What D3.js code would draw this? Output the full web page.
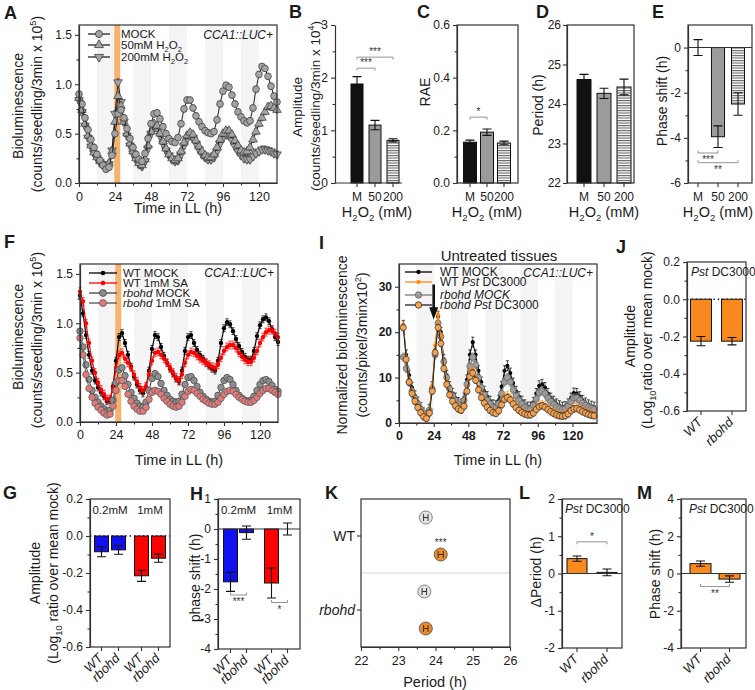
<!DOCTYPE html>
<html>
<head>
<meta charset="utf-8">
<script src="https://cdn.jsdelivr.net/npm/d3@7"></script>
<style>
  body { margin: 0; background: #fff; }
  svg text { font-family: "Liberation Sans", Arial, Helvetica, sans-serif; }
</style>
</head>
<body>
<script>
// ---------- time courses (2 h sampling) ----------
const hoursAF = d3.range(0, 133, 2);
const hoursI = d3.range(3, 136, 2);

// A : H2O2 pulse
const aMock = [0.90,0.80,0.66,0.54,0.44,0.36,0.29,0.23,0.18,0.14,
  0.16,0.28,0.50,0.70,0.74,0.66,0.55,0.45,0.36,0.29,
  0.24,0.22,0.30,0.45,0.60,0.70,0.71,0.65,0.57,0.50,
  0.45,0.42,0.41,0.46,0.60,0.75,0.84,0.84,0.76,0.68,
  0.62,0.57,0.53,0.51,0.50,0.52,0.64,0.80,0.93,0.99,
  0.97,0.89,0.80,0.72,0.67,0.63,0.61,0.63,0.76,0.95,
  1.10,1.18,1.16,1.08,0.98,0.88,0.82];
const a50 = [0.86,0.74,0.60,0.48,0.38,0.31,0.26,0.22,0.19,0.17,
  0.20,0.32,0.62,0.88,0.78,0.62,0.50,0.40,0.32,0.25,
  0.20,0.18,0.24,0.38,0.52,0.60,0.58,0.50,0.42,0.35,
  0.29,0.25,0.23,0.25,0.32,0.41,0.48,0.51,0.49,0.43,
  0.37,0.32,0.28,0.26,0.26,0.29,0.36,0.44,0.50,0.53,
  0.53,0.49,0.43,0.38,0.33,0.31,0.32,0.36,0.44,0.52,
  0.60,0.66,0.72,0.77,0.78,0.76,0.74];
const a200 = [0.84,0.72,0.58,0.46,0.37,0.30,0.25,0.21,0.18,0.16,
  0.19,0.33,0.70,1.02,0.82,0.62,0.48,0.38,0.30,0.24,
  0.19,0.17,0.22,0.35,0.50,0.58,0.56,0.48,0.40,0.33,
  0.28,0.24,0.22,0.23,0.29,0.38,0.45,0.48,0.46,0.40,
  0.34,0.29,0.26,0.24,0.24,0.26,0.32,0.40,0.46,0.49,
  0.48,0.43,0.37,0.32,0.28,0.25,0.24,0.24,0.27,0.30,
  0.32,0.34,0.34,0.33,0.32,0.30,0.29];

// F : SA pulse
const fWtMock = [1.28,1.10,0.88,0.68,0.52,0.42,0.35,0.30,0.26,0.21,
  0.22,0.36,0.62,0.86,0.90,0.80,0.68,0.56,0.46,0.38,
  0.32,0.29,0.35,0.52,0.74,0.88,0.86,0.76,0.67,0.60,
  0.54,0.49,0.44,0.41,0.52,0.72,0.86,0.88,0.80,0.73,
  0.68,0.64,0.60,0.57,0.54,0.52,0.62,0.80,0.95,1.01,
  0.99,0.92,0.84,0.77,0.71,0.66,0.63,0.63,0.72,0.87,
  0.98,1.04,1.06,1.02,0.94,0.86,0.81];
const fWtSA = [1.32,1.22,1.00,0.80,0.62,0.50,0.40,0.33,0.28,0.23,
  0.23,0.34,0.55,0.68,0.70,0.64,0.60,0.55,0.48,0.41,
  0.35,0.32,0.36,0.48,0.62,0.70,0.71,0.68,0.64,0.60,
  0.55,0.50,0.45,0.42,0.48,0.60,0.68,0.71,0.70,0.67,
  0.64,0.62,0.60,0.58,0.56,0.55,0.58,0.65,0.72,0.76,
  0.78,0.78,0.75,0.70,0.66,0.63,0.61,0.61,0.65,0.72,
  0.80,0.86,0.91,0.93,0.93,0.90,0.86];
const fRbMock = [0.92,0.76,0.58,0.43,0.32,0.25,0.20,0.16,0.13,0.11,
  0.12,0.22,0.40,0.53,0.55,0.47,0.38,0.30,0.24,0.19,
  0.16,0.15,0.20,0.32,0.44,0.49,0.46,0.39,0.32,0.27,
  0.23,0.21,0.20,0.21,0.28,0.38,0.45,0.46,0.42,0.36,
  0.30,0.26,0.23,0.21,0.20,0.21,0.27,0.35,0.42,0.45,
  0.43,0.38,0.32,0.27,0.24,0.22,0.21,0.22,0.26,0.32,
  0.38,0.42,0.43,0.41,0.37,0.33,0.31];
const fRbSA = [0.85,0.68,0.48,0.34,0.25,0.19,0.15,0.12,0.09,0.07,
  0.08,0.16,0.32,0.42,0.42,0.36,0.28,0.21,0.16,0.13,
  0.11,0.11,0.15,0.23,0.30,0.32,0.31,0.28,0.24,0.21,
  0.18,0.16,0.15,0.16,0.20,0.26,0.31,0.33,0.32,0.29,
  0.26,0.23,0.21,0.19,0.18,0.18,0.20,0.24,0.28,0.31,
  0.32,0.31,0.28,0.25,0.23,0.21,0.20,0.20,0.22,0.25,
  0.29,0.32,0.34,0.34,0.32,0.30,0.28];

// I : untreated tissues, Pst DC3000
const iWtMock = [21.5,15.0,10.5,7.8,6.0,4.6,3.4,2.2,1.6,3.0,
  8.0,16.0,23.5,20.0,14.0,10.5,8.0,6.5,5.5,4.5,
  4.2,5.5,9.5,15.0,17.8,15.0,11.5,9.0,7.0,5.8,
  4.8,4.0,3.8,5.0,8.0,11.5,12.6,11.0,8.8,7.0,
  5.8,4.8,4.0,3.5,3.5,4.5,6.5,8.2,8.5,7.8,
  6.5,5.5,4.8,4.2,3.8,3.5,3.6,4.2,5.5,6.6,
  6.5,5.8,5.0,4.4,4.0,3.7,3.5];
const iWtPst = [21.5,14.5,9.5,6.8,5.0,3.6,2.5,1.5,1.1,2.5,
  8.0,17.0,23.8,19.0,12.5,9.0,6.5,5.0,4.0,3.3,
  3.0,4.0,7.5,11.0,11.8,10.0,7.8,6.0,4.8,3.8,
  3.0,2.5,2.4,3.0,4.5,5.8,6.2,5.6,4.6,3.8,
  3.1,2.6,2.2,2.0,2.0,2.5,3.3,4.0,4.2,3.9,
  3.3,2.8,2.4,2.1,1.9,1.8,1.9,2.3,3.0,3.5,
  3.5,3.2,2.8,2.5,2.3,2.1,2.0];
const iRbMock = [14.5,12.0,9.0,7.0,5.5,4.2,3.0,2.0,1.5,2.8,
  7.5,15.0,22.0,19.0,13.5,10.0,7.5,6.0,5.0,4.2,
  3.8,5.0,8.5,12.5,14.5,12.8,10.0,7.8,6.2,5.0,
  4.2,3.5,3.3,4.2,6.5,9.0,10.0,9.0,7.3,6.0,
  5.0,4.2,3.5,3.1,3.1,3.9,5.3,6.7,7.0,6.5,
  5.5,4.7,4.1,3.6,3.2,3.0,3.1,3.7,4.7,5.5,
  5.5,5.0,4.4,3.9,3.5,3.2,3.0];
const iRbPst = [21.0,14.0,9.0,6.5,4.8,3.4,2.3,1.4,1.0,2.2,
  7.0,15.5,21.0,17.5,12.0,8.5,6.2,4.8,3.8,3.1,
  2.8,3.7,7.0,10.2,11.0,9.4,7.3,5.6,4.4,3.5,
  2.8,2.3,2.1,2.7,4.0,5.2,5.6,5.1,4.2,3.4,
  2.8,2.3,2.0,1.8,1.8,2.2,3.0,3.6,3.8,3.5,
  3.0,2.5,2.1,1.8,1.6,1.5,1.6,2.0,2.7,3.1,
  3.2,2.9,2.5,2.2,1.9,1.7,1.6];

const nights = [[12, 24], [36, 48], [60, 72], [84, 96], [108, 120]];
const pulse = [23.5, 27.5];
const timeTicks = [0, 24, 48, 72, 96, 120];
const timeMinor = [12, 36, 60, 84, 108];
const bioTicks = [0, 0.5, 1.0, 1.5];
const bioMinor = [0.25, 0.75, 1.25];

// ---------- bar panels ----------
const doseCats = ["M", "50", "200"];
const ampB = [1.88, 1.10, 0.81], ampBErr = [0.14, 0.09, 0.03];
const raeC = [0.155, 0.193, 0.152], raeCErr = [0.008, 0.012, 0.007];
const perD = [24.62, 24.27, 24.43], perDErr = [0.13, 0.13, 0.20];
const phE = [0, -3.95, -2.5], phEErr = [0.35, 0.48, 0.5];

const saGroups = ["0.2mM", "1mM"];
const genotypes = ["WT", "rbohd"];
const saGroupOf = ["0.2mM", "0.2mM", "1mM", "1mM"];
const saGenoOf = ["WT", "rbohd", "WT", "rbohd"];
const ampG = [-0.085, -0.075, -0.215, -0.12], ampGErr = [0.027, 0.024, 0.03, 0.022];
const phH = [-1.76, -0.12, -1.80, 0.0], phHErr = [0.32, 0.22, 0.5, 0.2];

const ampJ = [-0.225, -0.225], ampJErr = [0.025, 0.02];
const dPerL = [0.40, 0.03], dPerLErr = [0.07, 0.09];
const phM = [0.53, -0.30], phMErr = [0.14, 0.17];

const kRows = ["WT MOCK", "WT Pst", "rbohd MOCK", "rbohd Pst"];
const kPeriod = [23.74, 24.14, 23.70, 23.74], kErr = [0.06, 0.07, 0.06, 0.06];

// significance: [index a, index b, level, stars]
const sigB = [[0, 2, 2.39, "***"], [0, 1, 2.18, "***"]];
const sigC = [[0, 1, 0.25, "*"]];
const sigE = [[0, 1, -4.67, "***"], [0, 2, -5.1, "**"]];
const sigH = [[0, 1, -2.2, "***"], [2, 3, -2.45, "*"]];
const sigL = [[0, 1, 0.85, "*"]];
const sigM = [[0, 1, -0.7, "**"]];

// ---------- drawing ----------
const svg = d3.select("body").append("svg").attr("width", 755).attr("height", 690);
const defs = svg.append("defs");
const stripe = defs.append("pattern").attr("id", "stripes")
  .attr("patternUnits", "userSpaceOnUse").attr("width", 6).attr("height", 2.5);
stripe.append("rect").attr("width", 6).attr("height", 2.5).attr("fill", "#fff");
stripe.append("rect").attr("width", 6).attr("height", 1.1).attr("fill", "#666");

const ORANGE = "#f7891f";
const doseFills = ["#111", "#9b9b9b", "url(#stripes)"];

function rich(text, parts, size) {
  let shift = 0;
  parts.forEach(p => {
    if (typeof p === "string") p = { t: p };
    const target = p.sub ? size * 0.25 : p.sup ? -size * 0.42 : 0;
    const ts = text.append("tspan").text(p.t);
    if (target - shift !== 0) ts.attr("dy", target - shift);
    shift = target;
    if (p.sub || p.sup) ts.attr("font-size", size * 0.66);
    if (p.i) ts.attr("font-style", "italic");
  });
}

function label(x, y, parts, o = {}) {
  const size = o.size || 14;
  const t = svg.append("text").attr("x", x).attr("y", y)
    .attr("font-size", size).attr("text-anchor", o.anchor || "middle").attr("fill", o.fill || "#1a1a1a");
  if (o.rotate) t.attr("transform", `rotate(${o.rotate},${x},${y})`);
  if (o.bold) t.attr("font-weight", "bold");
  if (o.italic) t.attr("font-style", "italic");
  rich(t, Array.isArray(parts) ? parts : [parts], size);
  return t;
}
function ylab(xc, yc, parts, size = 14) {
  return label(xc + size * 0.36, yc, parts, { rotate: -90, size });
}

function styleAxis(a, size, bold) {
  a.attr("font-size", null).attr("font-family", null);
  a.select(".domain").attr("stroke", "#333").attr("stroke-width", 1.2);
  a.selectAll(".tick line").attr("stroke", "#333").attr("stroke-width", 1.1);
  a.selectAll(".tick text").attr("font-size", size || 12).attr("fill", "#1a1a1a")
    .attr("font-weight", bold ? "bold" : null);
}
function leftAxis(g, y, xpos, ticks, fmt, minor, bold, pad = 3) {
  const a = g.append("g").attr("transform", `translate(${xpos},0)`)
    .call(d3.axisLeft(y).tickValues(ticks).tickFormat(fmt).tickSize(4).tickSizeOuter(0).tickPadding(pad));
  styleAxis(a, 12, bold);
  if (minor) {
    const m = g.append("g").attr("transform", `translate(${xpos},0)`)
      .call(d3.axisLeft(y).tickValues(minor).tickFormat("").tickSize(2.5));
    m.select(".domain").remove();
    styleAxis(m);
  }
}
function bottomAxis(g, x, ypos, ticks, fmt, minor, pad, bold) {
  const a = g.append("g").attr("transform", `translate(0,${ypos})`)
    .call(d3.axisBottom(x).tickValues(ticks).tickFormat(fmt).tickSize(4).tickSizeOuter(0).tickPadding(pad));
  styleAxis(a, 12.5, bold);
  if (minor) {
    const m = g.append("g").attr("transform", `translate(0,${ypos})`)
      .call(d3.axisBottom(x).tickValues(minor).tickFormat("").tickSize(2.5));
    m.select(".domain").remove();
    styleAxis(m);
  }
}
function frame(g, l, t, r, b) {
  g.append("rect").attr("x", l).attr("y", t).attr("width", r - l).attr("height", b - t)
    .attr("fill", "none").attr("stroke", "#333").attr("stroke-width", 1.2);
}

function timePanel(o) {
  const g = svg.append("g");
  const x = d3.scaleLinear().domain([0, o.xMax]).range([o.l, o.r]);
  const y = d3.scaleLinear().domain([0, o.yMax]).range([o.b, o.t]);
  g.selectAll("rect.night").data(nights).join("rect").attr("class", "night")
    .attr("x", d => x(d[0])).attr("width", d => x(d[1]) - x(d[0]))
    .attr("y", o.t).attr("height", o.b - o.t).attr("fill", "#f4f4f4");
  if (o.pulse) g.append("rect").attr("x", x(o.pulse[0])).attr("width", x(o.pulse[1]) - x(o.pulse[0]))
    .attr("y", o.t).attr("height", o.b - o.t).attr("fill", "#f6b26e");
  o.series.forEach(s => {
    const pts = s.values.map((v, i) => ({ h: s.hours[i], v }));
    g.append("path").datum(pts).attr("fill", "none").attr("stroke", s.line).attr("stroke-width", s.lw || 1)
      .attr("d", d3.line().x(d => x(d.h)).y(d => y(d.v)));
    g.append("path").attr("fill", "none").attr("stroke", s.err || s.line).attr("stroke-width", 0.7)
      .attr("d", pts.map(d => {
        const cx = x(d.h), y1 = y(d.v + s.sem), y2 = y(Math.max(0, d.v - s.sem));
        return `M${cx - 1.6},${y1}H${cx + 1.6}M${cx},${y1}V${y2}M${cx - 1.6},${y2}H${cx + 1.6}`;
      }).join(""));
    g.append("g").selectAll("path").data(pts).join("path")
      .attr("transform", d => `translate(${x(d.h)},${y(d.v)})` + (s.down ? " rotate(180)" : ""))
      .attr("d", d3.symbol(s.shape, s.size))
      .attr("fill", s.fill).attr("stroke", s.stroke || "none").attr("stroke-width", 0.7);
  });
  leftAxis(g, y, o.l, o.yTicks, o.yFmt, o.yMinor, o.bold);
  bottomAxis(g, x, o.b, timeTicks, d3.format("d"), timeMinor, o.xPad, o.bold);
  frame(g, o.l, o.t, o.r, o.b);
  return { g, x, y };
}

function legend(rows, xl, xr, xt, size) {
  rows.forEach(r => {
    svg.append("line").attr("x1", xl).attr("x2", xr).attr("y1", r.y).attr("y2", r.y)
      .attr("stroke", r.s.line).attr("stroke-width", 1.3);
    svg.append("path").attr("transform", `translate(${(xl + xr) / 2},${r.y})` + (r.s.down ? " rotate(180)" : ""))
      .attr("d", d3.symbol(r.s.shape, r.s.size * 1.1))
      .attr("fill", r.s.fill).attr("stroke", r.s.stroke || "none").attr("stroke-width", 0.8);
    label(xt, r.y + size * 0.36, r.text, { anchor: "start", size });
  });
}

function barPanel(o) {
  const g = svg.append("g");
  const groups = o.groups || [""];
  const gx = d3.scaleBand().domain(groups).range(o.xr);
  const sx = d3.scalePoint().domain(o.subs).range([-o.half, o.half]);
  const y = d3.scaleLinear().domain(o.dom).range([o.b, o.t]);
  const base = o.base === undefined ? 0 : o.base;
  const data = o.vals.map((v, i) => ({
    grp: o.grpOf ? o.grpOf[i] : groups[0], sub: o.subOf ? o.subOf[i] : o.subs[i],
    v, e: o.errs[i], fill: o.fills[i]
  }));
  const cx = d => gx(d.grp) + gx.bandwidth() / 2 + sx(d.sub);
  if (o.zero === "dotted") g.append("line").attr("x1", o.l).attr("x2", o.r).attr("y1", y(0)).attr("y2", y(0))
    .attr("stroke", "#111").attr("stroke-width", 1.4).attr("stroke-dasharray", "1.4,3");
  g.selectAll("rect.bar").data(data).join("rect").attr("class", "bar")
    .attr("x", d => cx(d) - o.bw / 2).attr("width", o.bw)
    .attr("y", d => Math.min(y(d.v), y(base)))
    .attr("height", d => Math.abs(y(d.v) - y(base)))
    .attr("fill", d => d.fill).attr("stroke", "#111").attr("stroke-width", 1);
  if (o.zero === "solid") g.append("line").attr("x1", o.l).attr("x2", o.r).attr("y1", y(0)).attr("y2", y(0))
    .attr("stroke", "#333").attr("stroke-width", 1.1);
  const cap = o.cap || 4.5;
  g.append("path").attr("fill", "none").attr("stroke", "#111").attr("stroke-width", 1.1)
    .attr("d", data.map(d => {
      const c = cx(d), y1 = y(d.v + d.e), y2 = y(d.v - d.e);
      return `M${c - cap},${y1}H${c + cap}M${c},${y1}V${y2}M${c - cap},${y2}H${c + cap}`;
    }).join(""));
  leftAxis(g, y, o.l, o.ticks, o.fmt, o.minor, false, o.pad);
  if (o.box) frame(g, o.l, o.t, o.r, o.b);
  else g.append("line").attr("x1", o.l).attr("x2", o.r).attr("y1", o.b).attr("y2", o.b)
    .attr("stroke", "#333").attr("stroke-width", 1.2);
  g.append("path").attr("stroke", "#333").attr("stroke-width", 1.1)
    .attr("d", data.map(d => `M${cx(d)},${o.b}V${o.b + 4}`).join(""));
  data.forEach(d => {
    if (o.rot) {
      svg.append("text").attr("transform", `translate(${cx(d) + 2},${o.b + 12}) rotate(-45)`)
        .attr("text-anchor", "end").attr("font-size", 13).attr("font-style", "italic")
        .attr("fill", "#1a1a1a").text(d.sub);
    } else {
      label(cx(d), o.b + 18, d.sub, { size: 12 });
    }
  });
  if (o.groupLabels) groups.forEach(gr => label(gx(gr) + gx.bandwidth() / 2, o.t + 15, gr, { size: 11.5 }));
  (o.sigs || []).forEach(s => {
    const x1 = cx(data[s[0]]), x2 = cx(data[s[1]]), yy = y(s[2]);
    const below = o.sigBelow;
    const tk = below ? -2.5 : 2.5;
    g.append("path").attr("fill", "none").attr("stroke", "#888").attr("stroke-width", 0.9)
      .attr("d", `M${x1},${yy + tk}V${yy}H${x2}V${yy + tk}`);
    label((x1 + x2) / 2, below ? yy + 10 : yy - 2, s[3], { size: 10, fill: "#333" });
  });
  return { g, gx, y, data, cx };
}

// ---- A ----
const styA = {
  mock: { shape: d3.symbolCircle, size: 36, fill: "#a3a3a3", stroke: "#3a3a3a", line: "#222" },
  h50: { shape: d3.symbolTriangle, size: 32, fill: "#a3a3a3", stroke: "#3a3a3a", line: "#222" },
  h200: { shape: d3.symbolTriangle, size: 32, fill: "#a3a3a3", stroke: "#3a3a3a", line: "#222", down: true }
};
timePanel({
  l: 79, r: 277, t: 25, b: 183, xMax: 132, yMax: 1.6, yTicks: bioTicks, yMinor: bioMinor,
  yFmt: d => d.toFixed(1), xPad: 5, pulse,
  series: [
    { ...styA.h200, hours: hoursAF, values: a200, sem: 0.035 },
    { ...styA.h50, hours: hoursAF, values: a50, sem: 0.03 },
    { ...styA.mock, hours: hoursAF, values: aMock, sem: 0.03 }
  ]
});
legend([
  { y: 34, s: styA.mock, text: "MOCK" },
  { y: 45, s: styA.h50, text: ["50mM H", { t: "2", sub: true }, "O", { t: "2", sub: true }] },
  { y: 57, s: styA.h200, text: ["200mM H", { t: "2", sub: true }, "O", { t: "2", sub: true }] }
], 88, 110, 121, 11.5);
label(273, 39, "CCA1::LUC+", { anchor: "end", size: 12, italic: true });
ylab(18, 106, "Bioluminescence");
ylab(37, 104, ["(counts/seedling/3min x 10", { t: "5", sup: true }, ")"]);
label(178, 213, "Time in LL (h)", { size: 14.5 });

// ---- F ----
const styF = {
  wtM: { shape: d3.symbolCircle, size: 15, fill: "#000", line: "#000", lw: 1.2 },
  wtS: { shape: d3.symbolCircle, size: 15, fill: "#f00", line: "#f00", lw: 1.2 },
  rbM: { shape: d3.symbolCircle, size: 34, fill: "#8e8e8e", stroke: "#444", line: "#444" },
  rbS: { shape: d3.symbolCircle, size: 34, fill: "#e07b7b", stroke: "#555", line: "#555" }
};
timePanel({
  l: 80, r: 278, t: 264, b: 422, xMax: 132, yMax: 1.6, yTicks: bioTicks, yMinor: bioMinor,
  yFmt: d => d.toFixed(1), xPad: 4, pulse,
  series: [
    { ...styF.wtM, hours: hoursAF, values: fWtMock, sem: 0.035 },
    { ...styF.wtS, hours: hoursAF, values: fWtSA, sem: 0.04 },
    { ...styF.rbM, hours: hoursAF, values: fRbMock, sem: 0.02 },
    { ...styF.rbS, hours: hoursAF, values: fRbSA, sem: 0.02 }
  ]
});
legend([
  { y: 273, s: styF.wtM, text: "WT MOCK" },
  { y: 283, s: styF.wtS, text: "WT 1mM SA" },
  { y: 293, s: styF.rbM, text: [{ t: "rbohd", i: true }, " MOCK"] },
  { y: 303, s: styF.rbS, text: [{ t: "rbohd", i: true }, " 1mM SA"] }
], 89, 117, 123, 11.5);
label(274, 277, "CCA1::LUC+", { anchor: "end", size: 12, italic: true });
ylab(18, 337, "Bioluminescence");
ylab(37, 340, ["(counts/seedling/3min x 10", { t: "5", sup: true }, ")"]);
label(179, 465, "Time in LL (h)", { size: 14.5 });

// ---- I ----
const styI = {
  wtM: { shape: d3.symbolCircle, size: 13, fill: "#000", line: "#000" },
  wtP: { shape: d3.symbolSquare, size: 12, fill: "#ff8a14", line: "#ff8a14" },
  rbM: { shape: d3.symbolCircle, size: 30, fill: "#9c9c9c", stroke: "#666", line: "#7a7a7a" },
  rbP: { shape: d3.symbolCircle, size: 30, fill: "#f5a24f", stroke: "#333", line: "#222" }
};
const I = timePanel({
  l: 399, r: 597, t: 264, b: 423, xMax: 137, yMax: 35, yTicks: [0, 10, 20, 30], yMinor: [5, 15, 25],
  yFmt: d3.format("d"), xPad: 4, bold: true,
  series: [
    { ...styI.wtM, hours: hoursI, values: iWtMock, sem: 1.1 },
    { ...styI.rbM, hours: hoursI, values: iRbMock, sem: 0.9 },
    { ...styI.wtP, hours: hoursI, values: iWtPst, sem: 0.8 },
    { ...styI.rbP, hours: hoursI, values: iRbPst, sem: 0.7 }
  ]
});
legend([
  { y: 272, s: styI.wtM, text: "WT MOCK" },
  { y: 282, s: styI.wtP, text: ["WT ", { t: "Pst", i: true }, " DC3000"] },
  { y: 295, s: styI.rbM, text: [{ t: "rbohd MOCK", i: true }] },
  { y: 305, s: styI.rbP, text: [{ t: "rbohd Pst", i: true }, " DC3000"] }
], 405, 432, 440, 12);
// inoculation arrow
I.g.append("path").attr("stroke", "#111").attr("stroke-width", 2.6)
  .attr("d", `M${I.x(24)},${I.y(30.5)}V${I.y(24.5)}`);
I.g.append("path").attr("fill", "#111")
  .attr("d", `M${I.x(24) - 4.5},${I.y(25.5)}L${I.x(24) + 4.5},${I.y(25.5)}L${I.x(24)},${I.y(22.8)}Z`);
label(593, 277, "CCA1::LUC+", { anchor: "end", size: 12, italic: true });
label(499, 261, "Untreated tissues", { size: 15 });
ylab(342, 345, "Normalized bioluminescence");
ylab(362, 345, ["(counts/pixel/3minx10", { t: "2", sup: true }, ")"]);
label(498, 465, "Time in LL (h)", { size: 14.5 });

// ---- B–E ----
const h2o2 = ["H", { t: "2", sub: true }, "O", { t: "2", sub: true }, " (mM)"];
barPanel({ l: 335, r: 402, t: 25, b: 183, xr: [336, 414], half: 18, bw: 12, dom: [0, 3],
  ticks: [0, 1, 2, 3], minor: [0.5, 1.5, 2.5], fmt: d => d, subs: doseCats,
  vals: ampB, errs: ampBErr, fills: doseFills, sigs: sigB });
label(377, 217, h2o2, { size: 14.5 });
ylab(297, 107, "Amplitude", 13.5);
ylab(315, 106, ["(counts/seedling/3min x 10", { t: "4", sup: true }, ")"], 13.5);

barPanel({ l: 457, r: 518, t: 25, b: 183, box: true, xr: [457, 517], half: 17, bw: 13, dom: [0, 0.6],
  ticks: [0, 0.2, 0.4, 0.6], minor: [0.1, 0.3, 0.5], fmt: d => d.toFixed(1), subs: doseCats,
  vals: raeC, errs: raeCErr, fills: doseFills, sigs: sigC });
label(487, 217, h2o2, { size: 14.5 });
ylab(425, 92, "RAE");

barPanel({ l: 567, r: 634, t: 25, b: 183, box: true, xr: [574, 634], half: 20, bw: 14, dom: [22, 26], base: 22,
  ticks: [22, 23, 24, 25, 26], fmt: d => d, subs: doseCats, pad: 2,
  vals: perD, errs: perDErr, fills: doseFills });
label(604, 217, h2o2, { size: 14.5 });
ylab(538, 105, "Period (h)");

barPanel({ l: 688, r: 752, t: 25, b: 183, box: true, xr: [688, 748], half: 20, bw: 13, dom: [-6, 1],
  ticks: [-6, -4, -2, 0], minor: [-5, -3, -1], fmt: d => String(d), subs: doseCats, zero: "solid",
  vals: phE, errs: phEErr, fills: doseFills, sigs: sigE, sigBelow: true });
label(718, 217, h2o2, { size: 14.5 });
ylab(662, 101, "Phase shift (h)");

// ---- G, H ----
const saFills = ["#1111f0", "#1111f0", "#f00", "#f00"];
barPanel({ l: 90, r: 170, t: 499, b: 647, box: true, xr: [90, 170], half: 8.5, bw: 14, dom: [-0.6, 0.2],
  ticks: [-0.6, -0.4, -0.2, 0, 0.2], minor: [-0.5, -0.3, -0.1, 0.1], fmt: d => d.toFixed(1),
  groups: saGroups, subs: genotypes, grpOf: saGroupOf, subOf: saGenoOf, groupLabels: true,
  zero: "dotted", rot: true, vals: ampG, errs: ampGErr, fills: saFills });
ylab(35, 573, "Amplitude");
ylab(53, 573, ["(Log", { t: "10", sub: true }, " ratio over mean mock)"]);

barPanel({ l: 218, r: 300, t: 499, b: 649, box: true, xr: [218, 300], half: 8, bw: 14, dom: [-4, 1],
  ticks: [-4, -3, -2, -1, 0, 1], minor: [-3.5, -2.5, -1.5, -0.5, 0.5], fmt: d => String(d),
  groups: saGroups, subs: genotypes, grpOf: saGroupOf, subOf: saGenoOf, groupLabels: true,
  zero: "solid", rot: true, vals: phH, errs: phHErr, fills: saFills, sigs: sigH, sigBelow: true });
ylab(195, 578, "phase shift (h)");

// ---- J, L, M ----
const pstFills = [ORANGE, ORANGE];
const pstTag = [{ t: "Pst", i: true }, " DC3000"];
barPanel({ l: 687, r: 746, t: 262, b: 411, box: true, xr: [687, 746], half: 15.5, bw: 21, dom: [-0.6, 0.2],
  ticks: [-0.6, -0.4, -0.2, 0, 0.2], minor: [-0.5, -0.3, -0.1, 0.1], fmt: d => d.toFixed(1),
  subs: genotypes, zero: "dotted", rot: true, vals: ampJ, errs: ampJErr, fills: pstFills });
label(691, 276, pstTag, { anchor: "start", size: 12 });
ylab(630, 336, "Amplitude");
ylab(647, 340, ["(Log", { t: "10", sub: true }, "ratio over mean mock)"]);

barPanel({ l: 562, r: 622, t: 499, b: 648, box: true, xr: [562, 622], half: 15, bw: 20, dom: [-2, 2],
  ticks: [-2, -1, 0, 1, 2], minor: [-1.5, -0.5, 0.5, 1.5], fmt: d => String(d),
  subs: genotypes, zero: "solid", rot: true, vals: dPerL, errs: dPerLErr, fills: pstFills, sigs: sigL });
label(565, 513, pstTag, { anchor: "start", size: 12 });
ylab(536, 572, "\u0394Period (h)");

barPanel({ l: 681, r: 746, t: 499, b: 648, box: true, xr: [684, 746], half: 14.5, bw: 21, dom: [-4, 4],
  ticks: [-4, -2, 0, 2, 4], minor: [-3, -1, 1, 3], fmt: d => String(d),
  subs: genotypes, zero: "solid", rot: true, vals: phM, errs: phMErr, fills: pstFills, sigs: sigM, sigBelow: true });
label(689, 513, pstTag, { anchor: "start", size: 12 });
ylab(655, 574, "Phase shift (h)");

// ---- K ----
(function () {
  const g = svg.append("g");
  const x = d3.scaleLinear().domain([22, 26]).range([361, 510]);
  const y = d3.scaleBand().domain(kRows).range([499, 647]);
  const cy = r => y(r) + y.bandwidth() / 2;
  g.append("line").attr("x1", 361).attr("x2", 510).attr("y1", y(kRows[2])).attr("y2", y(kRows[2]))
    .attr("stroke", "#ccc").attr("stroke-width", 0.8);
  const pts = kRows.map((r, i) => ({ r, v: kPeriod[i], e: kErr[i], pst: r.endsWith("Pst") }));
  g.selectAll("circle").data(pts).join("circle")
    .attr("cx", d => x(d.v)).attr("cy", d => cy(d.r)).attr("r", 6.5)
    .attr("fill", d => d.pst ? "#f08a24" : "#e4e4e4").attr("stroke", d => d.pst ? "#555" : "#777").attr("stroke-width", 0.9);
  g.append("path").attr("fill", "none").attr("stroke", "#333").attr("stroke-width", 1)
    .attr("d", pts.map(d => {
      const x1 = x(d.v - d.e), x2 = x(d.v + d.e), c = cy(d.r);
      return `M${x1},${c - 3.5}V${c + 3.5}M${x1},${c}H${x2}M${x2},${c - 3.5}V${c + 3.5}`;
    }).join(""));
  label(x(kPeriod[1]), cy(kRows[1]) - 9, "***", { size: 10, fill: "#333" });
  bottomAxis(g, x, 647, [22, 23, 24, 25, 26], d3.format("d"), [22.5, 23.5, 24.5, 25.5], 5);
  frame(g, 361, 499, 510, 647);
  const groupsK = [["WT", y(kRows[1])], ["rbohd", y(kRows[3])]];
  groupsK.forEach(([name, yy]) => {
    g.append("line").attr("x1", 357).attr("x2", 361).attr("y1", yy).attr("y2", yy).attr("stroke", "#333").attr("stroke-width", 1.1);
    label(355, yy + 5, name, { anchor: "end", size: 14, italic: name === "rbohd" });
  });
  label(435, 687, "Period (h)", { size: 14.5 });
})();

// ---- panel letters ----
[["A", 4, 19], ["B", 289, 18], ["C", 417, 18], ["D", 536, 18], ["E", 652, 18],
 ["F", 4, 248], ["I", 319, 249], ["J", 616, 253],
 ["G", 3, 499], ["H", 190, 500], ["K", 325, 499], ["L", 519, 499], ["M", 637, 499]]
  .forEach(([t, x, y]) => label(x, y, t, { anchor: "start", size: 18, bold: true }));
</script>
</body>
</html>
